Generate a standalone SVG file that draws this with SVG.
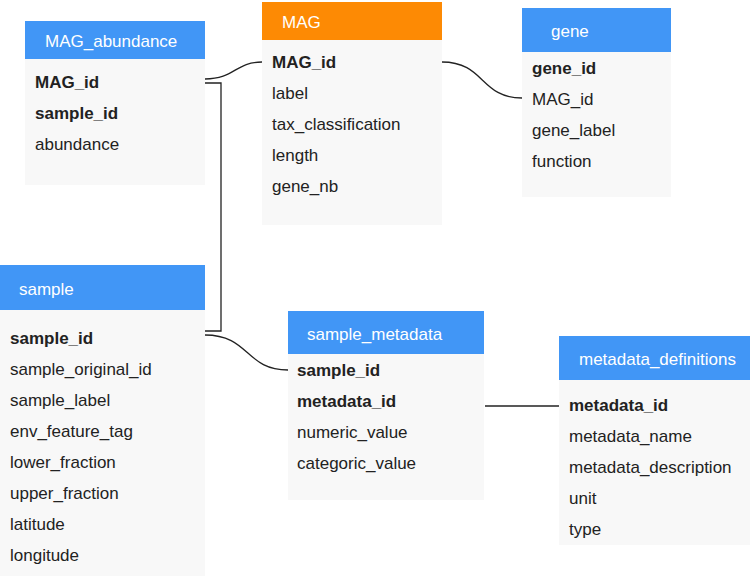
<svg xmlns="http://www.w3.org/2000/svg" width="752" height="576" viewBox="0 0 752 576">
<style>
.body{fill:#f8f8f8}
.hb{fill:#4196f6}
.ho{fill:#fd8a04}
.ht{font-family:"Liberation Sans",Arial,sans-serif;font-size:17px;fill:#ffffff}
.t{font-family:"Liberation Sans",Arial,sans-serif;font-size:17px;fill:#222222}
.b{font-weight:bold}
.c{fill:none;stroke:#222222;stroke-width:1.3}
</style>
<rect width="752" height="576" fill="#ffffff"/>
<g id="connectors">
<path class="c" d="M205,79 C235,79 235,62 262,62"/>
<path class="c" d="M205,83 H221 V331 H205"/>
<path class="c" d="M205,335 C250,335 245,370 288,370"/>
<path class="c" d="M442,62 C485,62 480,98 522,98"/>
<path class="c" d="M485,406 H559"/>
</g>
<g id="MAG_abundance">
<rect class="body" x="25" y="59" width="180" height="126"/>
<rect class="hb" x="25" y="21" width="180" height="38"/>
<text class="ht" x="45" y="47">MAG_abundance</text>
<text class="t b" x="35" y="88">MAG_id</text>
<text class="t b" x="35" y="119">sample_id</text>
<text class="t" x="35" y="150">abundance</text>
</g>
<g id="MAG">
<rect class="body" x="262" y="40" width="180" height="185"/>
<rect class="ho" x="262" y="2" width="180" height="38"/>
<text class="ht" x="282" y="28">MAG</text>
<text class="t b" x="272" y="68">MAG_id</text>
<text class="t" x="272" y="99">label</text>
<text class="t" x="272" y="130">tax_classification</text>
<text class="t" x="272" y="161">length</text>
<text class="t" x="272" y="192">gene_nb</text>
</g>
<g id="gene">
<rect class="body" x="522" y="52" width="149" height="145"/>
<rect class="hb" x="522" y="8" width="149" height="44"/>
<text class="ht" x="551" y="37">gene</text>
<text class="t b" x="532" y="74">gene_id</text>
<text class="t" x="532" y="105">MAG_id</text>
<text class="t" x="532" y="136">gene_label</text>
<text class="t" x="532" y="167">function</text>
</g>
<g id="sample">
<rect class="body" x="0" y="310" width="205" height="266"/>
<rect class="hb" x="0" y="265" width="205" height="45"/>
<text class="ht" x="19" y="295">sample</text>
<text class="t b" x="10" y="344">sample_id</text>
<text class="t" x="10" y="375">sample_original_id</text>
<text class="t" x="10" y="406">sample_label</text>
<text class="t" x="10" y="437">env_feature_tag</text>
<text class="t" x="10" y="468">lower_fraction</text>
<text class="t" x="10" y="499">upper_fraction</text>
<text class="t" x="10" y="530">latitude</text>
<text class="t" x="10" y="561">longitude</text>
</g>
<g id="sample_metadata">
<rect class="body" x="288" y="354" width="196" height="146"/>
<rect class="hb" x="288" y="311" width="196" height="43"/>
<text class="ht" x="307" y="340">sample_metadata</text>
<text class="t b" x="297" y="376">sample_id</text>
<text class="t b" x="297" y="407">metadata_id</text>
<text class="t" x="297" y="438">numeric_value</text>
<text class="t" x="297" y="469">categoric_value</text>
</g>
<g id="metadata_definitions">
<rect class="body" x="559" y="380" width="191" height="165"/>
<rect class="hb" x="559" y="336" width="191" height="44"/>
<text class="ht" x="579" y="365">metadata_definitions</text>
<text class="t b" x="569" y="411">metadata_id</text>
<text class="t" x="569" y="442">metadata_name</text>
<text class="t" x="569" y="473">metadata_description</text>
<text class="t" x="569" y="504">unit</text>
<text class="t" x="569" y="535">type</text>
</g>
</svg>
